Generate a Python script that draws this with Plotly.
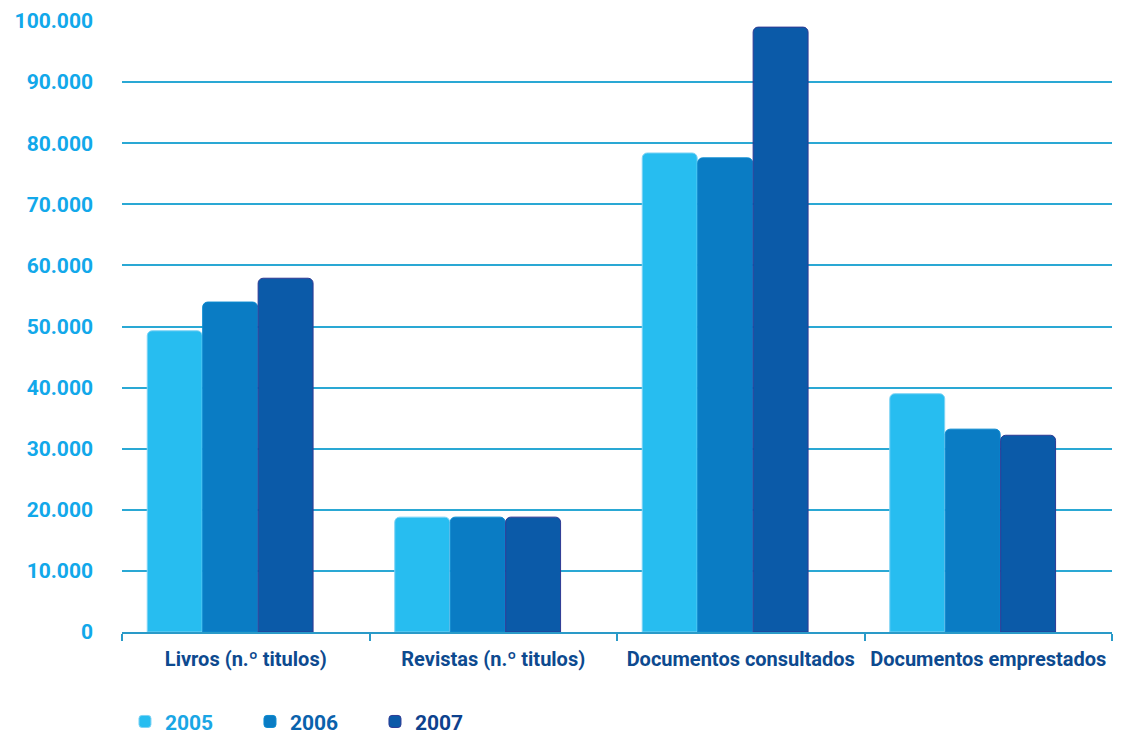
import plotly.graph_objects as go

categories = ["Livros (n.º titulos)", "Revistas (n.º titulos)", "Documentos consultados", "Documentos emprestados"]
years = ["2005", "2006", "2007"]
v2005 = [49300, 18800, 78400, 39000]
v2006 = [54000, 18800, 77600, 33200]
v2007 = [57900, 18800, 99000, 32200]
tick_vals = [0, 10000, 20000, 30000, 40000, 50000, 60000, 70000, 80000, 90000, 100000]
tick_text = ["0", "10.000", "20.000", "30.000", "40.000", "50.000", "60.000", "70.000", "80.000", "90.000", "100.000"]

series = [v2005, v2006, v2007]
bar_colors = ["#27bdf0", "#0a7cc4", "#0b5aa8"]
line_colors = ["#7fd3f5", "#0a8ad0", "#2e3a94"]
text_colors = ["#1aa6e5", "#0a62ac", "#0d418d"]

BAR_W = 0.222
GROUP_START = -0.398
STEP = 0.224

fig = go.Figure()
for i, (yr, vals, bc, lc, tc) in enumerate(zip(years, series, bar_colors, line_colors, text_colors)):
    fig.add_trace(go.Bar(
        x=categories, y=vals,
        name=f"<span style='color:{tc}'>{yr}</span>",
        width=BAR_W, offset=GROUP_START + i * STEP,
        marker=dict(color=bc, line=dict(color=lc, width=1)),
    ))

fig.update_layout(
    width=1125, height=734,
    margin=dict(l=114, r=21, t=13, b=110, autoexpand=False),
    plot_bgcolor="white", paper_bgcolor="white",
    barmode="overlay",
    barcornerradius=5,
    font=dict(family="Roboto, Lato, sans-serif", size=17),
    showlegend=True,
    legend=dict(orientation="h", x=0.003, xanchor="left", y=-0.147, yanchor="middle",
                font=dict(size=21, family="Roboto, sans-serif", weight="bold"),
                entrywidth=80, entrywidthmode="pixels", itemwidth=30),
    yaxis=dict(range=[0, 100000], tickvals=tick_vals, ticktext=tick_text,
               showgrid=True, gridcolor="#2aa8d4", gridwidth=2,
               zeroline=False, showline=False, automargin=False,
               tickfont=dict(color="#12a8ea", size=21, family="Roboto, sans-serif", weight="bold"),
               ticklabelstandoff=28),
    xaxis=dict(showline=True, linecolor="#2a9ac8", linewidth=2, automargin=False,
               ticks="outside", tickson="boundaries", ticklen=7, tickcolor="#2a9ac8", tickwidth=2,
               ticklabelstandoff=8,
               tickfont=dict(color="#0d4a8f", size=20, family="Roboto, sans-serif", weight="bold")),
)

fig.write_html("out.html")
